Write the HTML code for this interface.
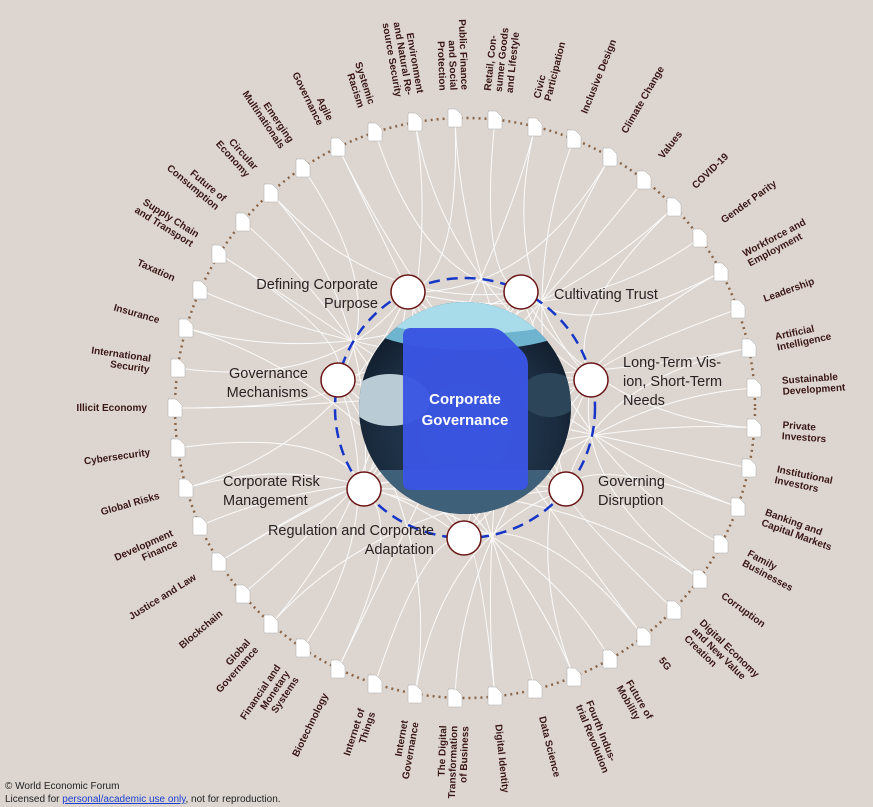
<!DOCTYPE html>
<html><head><meta charset="utf-8"><style>
html,body{margin:0;padding:0;background:#ddd6d0;}
svg{display:block;}
.l text{font-family:"Liberation Sans",sans-serif;font-weight:bold;font-size:10px;fill:#3a1616;}
.n{font-family:"Liberation Sans",sans-serif;font-size:14.5px;fill:#2a2222;}
.f{font-family:"Liberation Sans",sans-serif;font-size:10px;fill:#222;}
</style></head><body>
<svg width="873" height="807" viewBox="0 0 873 807" xmlns="http://www.w3.org/2000/svg">
<defs>
<path id="d" d="M-7,-9 h7 q1,0 2,1 l4,4 q1,1 1,2 v10 q0,1 -1,1 h-12 q-1,0 -1,-1 v-16 q0,-1 1,-1 z" fill="#fff" stroke="#aaa" stroke-width="0.5"/>
<clipPath id="cc"><circle cx="465" cy="408" r="106"/></clipPath>
<radialGradient id="rg" cx="0.5" cy="0.6" r="0.6"><stop offset="0" stop-color="#2b4660"/><stop offset="0.7" stop-color="#1a2b3e"/><stop offset="1" stop-color="#0e1a28"/></radialGradient>
</defs>
<rect width="873" height="807" fill="#ddd6d0"/>
<g fill="none" stroke="#fff" stroke-width="1" opacity="0.9">
<path d="M455 118Q460.5 277.5 408 292"/><path d="M455 118Q460.5 277.5 566 489"/>
<path d="M495 120Q478.5 278.4 521 292"/>
<path d="M535 127Q496.5 281.5 591 380"/><path d="M535 127Q496.5 281.5 364 489"/>
<path d="M574 139Q514 287 566 489"/>
<path d="M610 157Q530 295 464 538"/><path d="M610 157Q530 295 408 292"/>
<path d="M644 180Q545.5 305.4 364 489"/>
<path d="M674 207Q559 317.5 338 380"/><path d="M674 207Q559 317.5 591 380"/>
<path d="M700 238Q570.8 331.5 408 292"/>
<path d="M721 272Q580.2 346.8 521 292"/><path d="M721 272Q580.2 346.8 464 538"/>
<path d="M738 309Q587.9 363.5 591 380"/>
<path d="M749 348Q592.8 381 566 489"/><path d="M749 348Q592.8 381 338 380"/>
<path d="M754 388Q595 399 464 538"/>
<path d="M754 428Q595 417 364 489"/><path d="M754 428Q595 417 521 292"/>
<path d="M749 468Q592.8 435 338 380"/>
<path d="M738 507Q587.9 452.6 408 292"/><path d="M738 507Q587.9 452.6 566 489"/>
<path d="M721 544Q580.2 469.2 521 292"/>
<path d="M700 579Q570.8 485 591 380"/><path d="M700 579Q570.8 485 364 489"/>
<path d="M674 610Q559 498.9 566 489"/>
<path d="M644 637Q545.5 511 464 538"/><path d="M644 637Q545.5 511 408 292"/>
<path d="M610 659Q530 521 364 489"/>
<path d="M574 677Q514 529 338 380"/><path d="M574 677Q514 529 591 380"/>
<path d="M535 689Q496.5 534.5 408 292"/>
<path d="M495 696Q478.5 537.6 521 292"/><path d="M495 696Q478.5 537.6 464 538"/>
<path d="M455 698Q460.5 538.5 591 380"/>
<path d="M415 694Q442.5 536.7 566 489"/><path d="M415 694Q442.5 536.7 338 380"/>
<path d="M375 684Q424.5 532.2 464 538"/>
<path d="M338 669Q407.9 525.5 364 489"/><path d="M338 669Q407.9 525.5 521 292"/>
<path d="M303 648Q392.1 516 338 380"/>
<path d="M271 624Q377.7 505.2 408 292"/><path d="M271 624Q377.7 505.2 566 489"/>
<path d="M243 594Q365.1 491.7 521 292"/>
<path d="M219 562Q354.3 477.3 591 380"/><path d="M219 562Q354.3 477.3 364 489"/>
<path d="M200 526Q345.8 461.1 566 489"/>
<path d="M186 488Q339.5 444 464 538"/><path d="M186 488Q339.5 444 408 292"/>
<path d="M178 448Q335.9 426 364 489"/>
<path d="M175 408Q334.5 408 338 380"/><path d="M175 408Q334.5 408 591 380"/>
<path d="M178 368Q335.9 390 408 292"/>
<path d="M186 328Q339.5 372 521 292"/><path d="M186 328Q339.5 372 464 538"/>
<path d="M200 290Q345.8 354.9 591 380"/>
<path d="M219 254Q354.3 338.7 566 489"/><path d="M219 254Q354.3 338.7 338 380"/>
<path d="M243 222Q365.1 324.3 464 538"/>
<path d="M271 193Q377.7 311.3 364 489"/><path d="M271 193Q377.7 311.3 521 292"/>
<path d="M303 168Q392.1 300 338 380"/>
<path d="M338 147Q407.9 290.5 408 292"/><path d="M338 147Q407.9 290.5 566 489"/>
<path d="M375 132Q424.5 283.8 521 292"/>
<path d="M415 122Q442.5 279.3 591 380"/><path d="M415 122Q442.5 279.3 364 489"/>
</g>
<circle cx="465" cy="408" r="290" fill="none" stroke="#8a6548" stroke-width="2.5" stroke-dasharray="2 4"/>
<g>
<use href="#d" x="455" y="118"/><use href="#d" x="495" y="120"/><use href="#d" x="535" y="127"/><use href="#d" x="574" y="139"/><use href="#d" x="610" y="157"/><use href="#d" x="644" y="180"/><use href="#d" x="674" y="207"/><use href="#d" x="700" y="238"/><use href="#d" x="721" y="272"/><use href="#d" x="738" y="309"/><use href="#d" x="749" y="348"/><use href="#d" x="754" y="388"/><use href="#d" x="754" y="428"/><use href="#d" x="749" y="468"/><use href="#d" x="738" y="507"/><use href="#d" x="721" y="544"/><use href="#d" x="700" y="579"/><use href="#d" x="674" y="610"/><use href="#d" x="644" y="637"/><use href="#d" x="610" y="659"/><use href="#d" x="574" y="677"/><use href="#d" x="535" y="689"/><use href="#d" x="495" y="696"/><use href="#d" x="455" y="698"/><use href="#d" x="415" y="694"/><use href="#d" x="375" y="684"/><use href="#d" x="338" y="669"/><use href="#d" x="303" y="648"/><use href="#d" x="271" y="624"/><use href="#d" x="243" y="594"/><use href="#d" x="219" y="562"/><use href="#d" x="200" y="526"/><use href="#d" x="186" y="488"/><use href="#d" x="178" y="448"/><use href="#d" x="175" y="408"/><use href="#d" x="178" y="368"/><use href="#d" x="186" y="328"/><use href="#d" x="200" y="290"/><use href="#d" x="219" y="254"/><use href="#d" x="243" y="222"/><use href="#d" x="271" y="193"/><use href="#d" x="303" y="168"/><use href="#d" x="338" y="147"/><use href="#d" x="375" y="132"/><use href="#d" x="415" y="122"/>
</g>
<circle cx="465" cy="408" r="130" fill="none" stroke="#1636c8" stroke-width="2.5" stroke-dasharray="11 7"/>
<g clip-path="url(#cc)">
<rect x="355" y="298" width="220" height="220" fill="url(#rg)"/>
<ellipse cx="470" cy="318" rx="110" ry="32" fill="#6fb4cf"/>
<ellipse cx="470" cy="318" rx="90" ry="16" fill="#a8dceb"/>
<ellipse cx="390" cy="400" rx="40" ry="26" fill="#b9ccd6"/>
<ellipse cx="550" cy="395" rx="30" ry="22" fill="#2c4558"/>
<rect x="380" y="470" width="180" height="50" fill="#3f6079"/>
</g>
<path d="M411,328 h80 q8,0 14,6 l17,17 q6,6 6,14 v117 q0,8 -8,8 h-109 q-8,0 -8,-8 v-146 q0,-8 8,-8 z" fill="#3a55e2" opacity="0.97"/>
<text x="465" y="404" text-anchor="middle" font-family="Liberation Sans,sans-serif" font-weight="bold" font-size="15" fill="#fff">Corporate</text>
<text x="465" y="425" text-anchor="middle" font-family="Liberation Sans,sans-serif" font-weight="bold" font-size="15" fill="#fff">Governance</text>
<g fill="#fff" stroke="#6a1515" stroke-width="1.5">
<circle cx="408" cy="292" r="17"/><circle cx="521" cy="292" r="17"/><circle cx="591" cy="380" r="17"/><circle cx="566" cy="489" r="17"/><circle cx="464" cy="538" r="17"/><circle cx="364" cy="489" r="17"/><circle cx="338" cy="380" r="17"/>
</g>
<g class="n">
<text x="378" y="289" text-anchor="end">Defining Corporate</text><text x="378" y="308" text-anchor="end">Purpose</text>
<text x="554" y="299">Cultivating Trust</text>
<text x="623" y="367">Long-Term Vis-</text><text x="623" y="386">ion, Short-Term</text><text x="623" y="405">Needs</text>
<text x="308" y="378" text-anchor="end">Governance</text><text x="308" y="397" text-anchor="end">Mechanisms</text>
<text x="598" y="486">Governing</text><text x="598" y="505">Disruption</text>
<text x="223" y="486">Corporate Risk</text><text x="223" y="505">Management</text>
<text x="434" y="535" text-anchor="end">Regulation and Corporate</text><text x="434" y="554" text-anchor="end">Adaptation</text>
</g>
<g class="l">
<text transform="rotate(88 465 408)" x="147" y="408" text-anchor="end"><tspan x="147" dy="-7.5">Public Finance</tspan><tspan x="147" dy="11">and Social</tspan><tspan x="147" dy="11">Protection</tspan></text>
<text transform="rotate(-84 465 408)" x="783" y="408"><tspan x="783" dy="-7.5">Retail, Con-</tspan><tspan x="783" dy="11">sumer Goods</tspan><tspan x="783" dy="11">and Lifestyle</tspan></text>
<text transform="rotate(-76 465 408)" x="783" y="408"><tspan x="783" dy="-2">Civic</tspan><tspan x="783" dy="11">Participation</tspan></text>
<text transform="rotate(-68 465 408)" x="783" y="411">Inclusive Design</text>
<text transform="rotate(-60 465 408)" x="783" y="411">Climate Change</text>
<text transform="rotate(-52 465 408)" x="783" y="411">Values</text>
<text transform="rotate(-44 465 408)" x="783" y="411">COVID-19</text>
<text transform="rotate(-36 465 408)" x="783" y="411">Gender Parity</text>
<text transform="rotate(-28 465 408)" x="783" y="408"><tspan x="783" dy="-2">Workforce and</tspan><tspan x="783" dy="11">Employment</tspan></text>
<text transform="rotate(-20 465 408)" x="783" y="411">Leadership</text>
<text transform="rotate(-12 465 408)" x="783" y="408"><tspan x="783" dy="-2">Artificial</tspan><tspan x="783" dy="11">Intelligence</tspan></text>
<text transform="rotate(-4 465 408)" x="783" y="408"><tspan x="783" dy="-2">Sustainable</tspan><tspan x="783" dy="11">Development</tspan></text>
<text transform="rotate(4 465 408)" x="783" y="408"><tspan x="783" dy="-2">Private</tspan><tspan x="783" dy="11">Investors</tspan></text>
<text transform="rotate(12 465 408)" x="783" y="408"><tspan x="783" dy="-2">Institutional</tspan><tspan x="783" dy="11">Investors</tspan></text>
<text transform="rotate(20 465 408)" x="783" y="408"><tspan x="783" dy="-2">Banking and</tspan><tspan x="783" dy="11">Capital Markets</tspan></text>
<text transform="rotate(28 465 408)" x="783" y="408"><tspan x="783" dy="-2">Family</tspan><tspan x="783" dy="11">Businesses</tspan></text>
<text transform="rotate(36 465 408)" x="783" y="411">Corruption</text>
<text transform="rotate(44 465 408)" x="783" y="408"><tspan x="783" dy="-7.5">Digital Economy</tspan><tspan x="783" dy="11">and New Value</tspan><tspan x="783" dy="11">Creation</tspan></text>
<text transform="rotate(52 465 408)" x="783" y="411">5G</text>
<text transform="rotate(60 465 408)" x="783" y="408"><tspan x="783" dy="-2">Future of</tspan><tspan x="783" dy="11">Mobility</tspan></text>
<text transform="rotate(68 465 408)" x="783" y="408"><tspan x="783" dy="-2">Fourth Indus-</tspan><tspan x="783" dy="11">trial Revolution</tspan></text>
<text transform="rotate(76 465 408)" x="783" y="411">Data Science</text>
<text transform="rotate(84 465 408)" x="783" y="411">Digital Identity</text>
<text transform="rotate(-88 465 408)" x="147" y="408" text-anchor="end"><tspan x="147" dy="-7.5">The Digital</tspan><tspan x="147" dy="11">Transformation</tspan><tspan x="147" dy="11">of Business</tspan></text>
<text transform="rotate(-80 465 408)" x="147" y="408" text-anchor="end"><tspan x="147" dy="-2">Internet</tspan><tspan x="147" dy="11">Governance</tspan></text>
<text transform="rotate(-72 465 408)" x="147" y="408" text-anchor="end"><tspan x="147" dy="-2">Internet of</tspan><tspan x="147" dy="11">Things</tspan></text>
<text transform="rotate(-64 465 408)" x="147" y="411" text-anchor="end">Biotechnology</text>
<text transform="rotate(-56 465 408)" x="147" y="408" text-anchor="end"><tspan x="147" dy="-7.5">Financial and</tspan><tspan x="147" dy="11">Monetary</tspan><tspan x="147" dy="11">Systems</tspan></text>
<text transform="rotate(-48 465 408)" x="147" y="408" text-anchor="end"><tspan x="147" dy="-2">Global</tspan><tspan x="147" dy="11">Governance</tspan></text>
<text transform="rotate(-40 465 408)" x="147" y="411" text-anchor="end">Blockchain</text>
<text transform="rotate(-32 465 408)" x="147" y="411" text-anchor="end">Justice and Law</text>
<text transform="rotate(-24 465 408)" x="147" y="408" text-anchor="end"><tspan x="147" dy="-2">Development</tspan><tspan x="147" dy="11">Finance</tspan></text>
<text transform="rotate(-16 465 408)" x="147" y="411" text-anchor="end">Global Risks</text>
<text transform="rotate(-8 465 408)" x="147" y="411" text-anchor="end">Cybersecurity</text>
<text transform="rotate(0 465 408)" x="147" y="411" text-anchor="end">Illicit Economy</text>
<text transform="rotate(8 465 408)" x="147" y="408" text-anchor="end"><tspan x="147" dy="-2">International</tspan><tspan x="147" dy="11">Security</tspan></text>
<text transform="rotate(16 465 408)" x="147" y="411" text-anchor="end">Insurance</text>
<text transform="rotate(24 465 408)" x="147" y="411" text-anchor="end">Taxation</text>
<text transform="rotate(32 465 408)" x="147" y="408" text-anchor="end"><tspan x="147" dy="-2">Supply Chain</tspan><tspan x="147" dy="11">and Transport</tspan></text>
<text transform="rotate(40 465 408)" x="147" y="408" text-anchor="end"><tspan x="147" dy="-2">Future of</tspan><tspan x="147" dy="11">Consumption</tspan></text>
<text transform="rotate(48 465 408)" x="147" y="408" text-anchor="end"><tspan x="147" dy="-2">Circular</tspan><tspan x="147" dy="11">Economy</tspan></text>
<text transform="rotate(56 465 408)" x="147" y="408" text-anchor="end"><tspan x="147" dy="-2">Emerging</tspan><tspan x="147" dy="11">Multinationals</tspan></text>
<text transform="rotate(64 465 408)" x="147" y="408" text-anchor="end"><tspan x="147" dy="-2">Agile</tspan><tspan x="147" dy="11">Governance</tspan></text>
<text transform="rotate(72 465 408)" x="147" y="408" text-anchor="end"><tspan x="147" dy="-2">Systemic</tspan><tspan x="147" dy="11">Racism</tspan></text>
<text transform="rotate(80 465 408)" x="147" y="408" text-anchor="end"><tspan x="147" dy="-7.5">Environment</tspan><tspan x="147" dy="11">and Natural Re-</tspan><tspan x="147" dy="11">source Security</tspan></text>
</g>
<text class="f" x="5" y="789">© World Economic Forum</text>
<text class="f" x="5" y="802">Licensed for <tspan fill="#1a3fd0" text-decoration="underline">personal/academic use only</tspan>, not for reproduction.</text>
</svg>
</body></html>
